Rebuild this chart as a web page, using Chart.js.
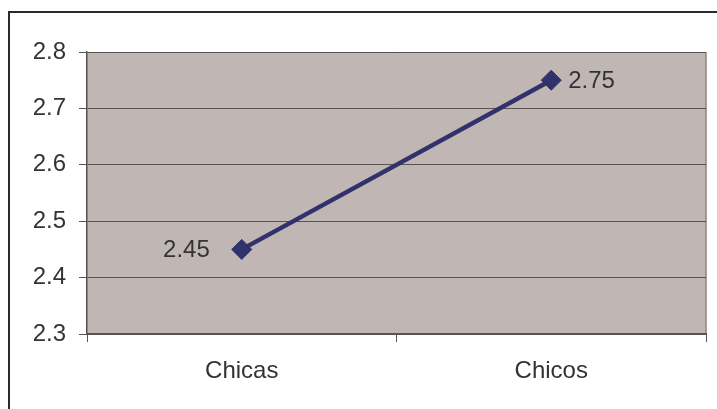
<!DOCTYPE html>
<html>
<head>
<meta charset="utf-8">
<script src="https://cdn.jsdelivr.net/npm/chart.js@4/dist/chart.umd.min.js"></script>
<style>
  html, body { margin: 0; padding: 0; background: #fff; }
  #wrap { position: relative; width: 717px; height: 409px; overflow: hidden; }
  #frame { position: absolute; left: 8px; top: 11px; width: 800px; height: 500px; border-left: 2px solid #2b2b2b; border-top: 2px solid #2b2b2b; pointer-events: none; }
  canvas { position: absolute; left: 0; top: 0; }
</style>
</head>
<body>
<div id="wrap">
  <canvas id="c" width="717" height="409"></canvas>
  <div id="frame"></div>
</div>
<script>
const categories = ['Chicas', 'Chicos'];
const values = [2.45, 2.75];
const yTicks = [2.3, 2.4, 2.5, 2.6, 2.7, 2.8];

const FONT = '"Liberation Sans", Arial, sans-serif';
const FONT_SIZE = 24;
const TEXT = '#333333';

// Plot-area fill and right-hand border
const plotBackground = {
  id: 'plotBackground',
  beforeDraw(chart) {
    const { ctx, chartArea: a } = chart;
    ctx.save();
    ctx.fillStyle = '#c0b7b4';
    ctx.fillRect(a.left, a.top, a.right - a.left, a.bottom - a.top);
    ctx.strokeStyle = '#8c8280';
    ctx.lineWidth = 1.5;
    ctx.beginPath();
    ctx.moveTo(a.right, a.top);
    ctx.lineTo(a.right, a.bottom);
    ctx.stroke();
    ctx.restore();
  }
};

// Value labels beside each point
const valueLabels = {
  id: 'valueLabels',
  afterDatasetsDraw(chart) {
    const { ctx } = chart;
    const meta = chart.getDatasetMeta(0);
    ctx.save();
    ctx.font = FONT_SIZE + 'px ' + FONT;
    ctx.fillStyle = TEXT;
    ctx.textBaseline = 'middle';
    meta.data.forEach((pt, i) => {
      const txt = values[i].toFixed(2);
      if (i === 0) {
        ctx.textAlign = 'right';
        ctx.fillText(txt, pt.x - 32, pt.y + 1);
      } else {
        ctx.textAlign = 'left';
        ctx.fillText(txt, pt.x + 17, pt.y + 1);
      }
    });
    ctx.restore();
  }
};

new Chart(document.getElementById('c'), {
  type: 'line',
  data: {
    labels: categories,
    datasets: [{
      data: values,
      borderColor: '#31316b',
      borderWidth: 4.5,
      backgroundColor: '#31316b',
      pointStyle: 'rectRot',
      pointRadius: 10,
      pointHoverRadius: 10,
      pointBorderWidth: 1,
      tension: 0
    }]
  },
  options: {
    responsive: false,
    animation: false,
    events: [],
    layout: { padding: { left: 0, right: 5, top: 52, bottom: 0 } },
    plugins: { legend: { display: false }, tooltip: { enabled: false } },
    scales: {
      x: {
        offset: true,
        grid: {
          offset: true,
          drawOnChartArea: false,
          drawTicks: true,
          tickLength: 8,
          color: '#555555'
        },
        border: { display: true, color: '#595353', width: 2 },
        ticks: { color: TEXT, font: { family: FONT, size: FONT_SIZE }, padding: 15 },
        afterFit(s) { s.height = 75; }
      },
      y: {
        min: 2.3,
        max: 2.8,
        afterBuildTicks(s) { s.ticks = yTicks.map(v => ({ value: v })); },
        grid: {
          color: '#5a5252',
          lineWidth: 1,
          drawTicks: true,
          tickLength: 8,
          tickColor: '#555555'
        },
        border: { display: true, color: '#555050', width: 1.5 },
        ticks: {
          color: TEXT,
          font: { family: FONT, size: FONT_SIZE },
          padding: 13,
          callback: v => v.toFixed(1)
        },
        afterFit(s) { s.width = 87; }
      }
    }
  },
  plugins: [plotBackground, valueLabels]
});
</script>
</body>
</html>
